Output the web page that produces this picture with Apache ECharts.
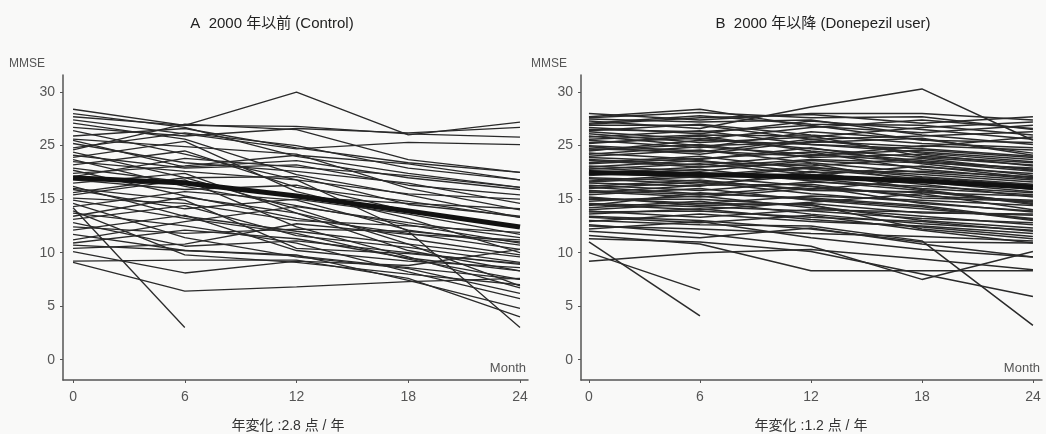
<!DOCTYPE html>
<html>
<head>
<meta charset="utf-8">
<script src="https://cdn.jsdelivr.net/npm/echarts@6/dist/echarts.min.js"></script>
<style>
  html, body { margin: 0; padding: 0; background: #f9f9f8; }
  #chart { width: 1046px; height: 434px; }
</style>
</head>
<body>
<div id="chart"></div>
<script>
// months of follow-up
const months = [0, 6, 12, 18, 24]
const xTickValues = [0, 6, 12, 18, 24]
// the printed axis has no "20": six equally spaced ticks labelled like this
const yTickValues = [0, 5, 10, 15, 20, 25]
const yTickLabels = ['0', '5', '10', '15', '25', '30']

const panelTitles = ['A  2000 年以前 (Control)', 'B  2000 年以降 (Donepezil user)']
const panelNotes = ['年変化 :2.8 点 / 年', '年変化 :1.2 点 / 年']

// mean trajectories (thick line), axis units
const controlMean = [17.0, 16.5, 15.3, 13.9, 12.4]
const donepezilMean = [17.5, 17.3, 17.1, 16.7, 16.1]

// individual patients, values at months 0/6/12/18/24 (null = no visit)
const controlPatients = [
  [23.4, 21.9, 25.0, 21.0, 22.2],
  [22.7, 21.9, 21.8, 21.1, 20.8],
  [21.7, 20.9, 21.6, 21.2, 21.7],
  [20.9, 21.6, 19.8, 18.4, 17.5],
  [20.2, 18.4, 17.6, 16.5, 14.6],
  [19.8, 21.2, 20.0, 17.9, 16.8],
  [19.1, 17.9, 18.2, 16.3, 15.4],
  [18.7, 16.2, 14.4, 12.6, 10.9],
  [18.2, 19.5, 16.1, 14.8, 13.3],
  [17.7, 15.3, 13.2, 11.8, 10.3],
  [17.1, 18.8, 18.0, 17.2, 16.1],
  [16.5, 17.4, 13.7, 10.2, 8.3],
  [15.9, 14.1, 15.0, 13.6, 11.7],
  [15.4, 16.8, 12.4, 9.6, 6.7],
  [14.9, 13.2, 11.8, 9.4, 7.5],
  [14.3, 15.7, 14.9, 12.1, 10.7],
  [13.7, 12.5, 10.9, 8.2, 5.7],
  [13.1, 14.4, 11.6, 10.5, 9.1],
  [12.4, 11.8, 12.2, 12.0, 11.0],
  [11.7, 10.2, 9.8, 7.4, 4.8],
  [10.9, 12.1, 11.3, 9.5, 8.3],
  [10.1, 8.1, 9.2, 8.8, 10.3],
  [10.7, 10.2, 9.7, 8.6, 7.5],
  [9.1, 6.4, 6.8, 7.3, 7.6],
  [14.2, 3.0, null, null, null],
  [9.2, 9.3, 9.3, 7.6, 4.0],
  [22.1, 20.6, 17.3, 15.4, 13.3],
  [21.4, 19.2, 16.8, 12.0, 3.0],
  [20.6, 19.9, 19.2, 16.0, 14.0],
  [18.9, 20.4, 15.7, 13.2, 10.0],
  [17.4, 18.1, 19.1, 18.3, 16.8],
  [16.8, 15.9, 16.3, 13.9, 12.4],
  [16.2, 13.4, 12.0, 10.8, 9.6],
  [15.6, 17.0, 17.1, 14.5, 13.4],
  [14.6, 11.4, 9.6, 8.5, 6.2],
  [13.4, 15.2, 13.7, 11.3, 9.8],
  [12.8, 10.6, 11.1, 10.0, 8.9],
  [19.4, 17.0, 14.1, 10.8, 6.9],
  [11.2, 12.9, 14.3, 12.8, 11.4],
  [22.4, 21.1, 19.7, 20.3, 20.1],
  [20.5, 18.0, 18.6, 17.0, 15.9],
  [17.9, 16.6, 15.2, 14.6, 14.1],
  [15.1, 14.6, 13.0, 12.5, 11.9],
  [23.0, 21.7, 19.0, 17.4, 16.1],
  [10.4, 10.8, 12.7, 11.7, 11.2],
  [19.6, 22.0, 21.5, 18.7, 17.5],
  [13.9, 9.8, 9.1, 8.0, 7.0],
  [16.0, 14.9, 10.4, 9.9, 9.0],
  [18.5, 17.6, 16.8, 15.5, 15.0],
  [12.1, 13.5, 10.2, 9.2, 8.6]
]

const donepezilPatients = [
  [22.7, 23.4, 21.8, 21.2, 21.9],
  [22.3, 21.6, 23.6, 25.3, 20.5],
  [22.0, 22.6, 22.9, 22.1, 22.7],
  [21.7, 21.1, 22.3, 21.5, 20.6],
  [21.4, 22.0, 21.0, 20.2, 19.8],
  [21.1, 20.3, 20.8, 21.7, 22.2],
  [20.8, 21.4, 20.1, 19.4, 18.7],
  [20.5, 19.8, 21.3, 20.6, 19.3],
  [20.2, 20.9, 19.5, 18.6, 17.8],
  [19.9, 19.2, 20.4, 19.9, 20.8],
  [19.6, 20.1, 18.9, 19.2, 18.1],
  [19.3, 18.7, 19.8, 18.3, 17.2],
  [19.0, 19.6, 18.4, 17.5, 16.8],
  [18.7, 18.2, 19.1, 19.6, 18.9],
  [18.4, 19.0, 17.8, 16.9, 15.9],
  [18.1, 17.6, 18.6, 18.0, 17.4],
  [17.8, 18.3, 17.3, 16.4, 15.2],
  [17.5, 17.0, 17.9, 17.3, 16.6],
  [17.2, 17.8, 16.7, 15.8, 14.5],
  [16.9, 16.4, 17.2, 18.1, 17.0],
  [16.6, 17.1, 16.2, 15.3, 14.9],
  [16.3, 15.8, 16.6, 16.2, 15.6],
  [16.0, 16.6, 15.5, 14.7, 13.8],
  [15.7, 15.2, 16.0, 15.6, 15.3],
  [15.4, 16.0, 14.9, 14.1, 13.2],
  [15.1, 14.6, 15.3, 14.9, 14.4],
  [14.8, 15.3, 14.2, 13.4, 12.6],
  [14.5, 14.0, 14.7, 15.5, 14.0],
  [14.2, 14.8, 13.6, 12.7, 12.1],
  [13.9, 13.3, 14.0, 13.8, 13.5],
  [13.6, 14.1, 13.1, 12.4, 11.5],
  [13.3, 12.8, 13.5, 12.1, 10.9],
  [13.0, 12.6, 12.5, 11.1, 3.2],
  [12.6, 11.8, 10.6, 7.5, 10.1],
  [12.2, 12.9, 11.4, 10.3, 9.6],
  [11.6, 10.8, 8.3, 8.3, 8.3],
  [11.0, 4.1, null, null, null],
  [10.0, 6.5, null, null, null],
  [9.2, 10.0, 10.3, 9.4, 8.4],
  [11.3, 11.0, 10.1, 8.0, 5.9],
  [22.5, 22.2, 22.4, 21.0, 20.1],
  [21.9, 21.9, 20.6, 20.9, 21.3],
  [21.3, 20.6, 21.7, 22.4, 21.6],
  [20.6, 21.0, 20.9, 19.0, 18.4],
  [20.0, 19.5, 19.0, 20.0, 19.6],
  [19.5, 20.5, 20.1, 19.7, 19.0],
  [18.9, 18.5, 18.1, 18.8, 17.7],
  [18.3, 18.8, 19.4, 17.8, 16.9],
  [17.9, 17.4, 16.8, 17.0, 16.3],
  [17.4, 18.0, 18.3, 16.6, 15.7],
  [17.0, 16.7, 15.9, 16.8, 16.0],
  [16.5, 16.2, 17.6, 15.9, 14.6],
  [16.1, 15.5, 15.1, 14.4, 13.1],
  [15.6, 16.3, 16.4, 15.1, 14.8],
  [15.0, 15.0, 14.4, 13.0, 12.3],
  [14.4, 15.6, 15.0, 14.3, 13.0],
  [13.8, 13.9, 13.3, 12.9, 12.0],
  [13.4, 13.0, 12.2, 11.0, 10.9],
  [12.9, 13.6, 12.9, 12.5, 11.8],
  [12.5, 12.2, 11.8, 11.5, 11.1],
  [22.1, 22.8, 22.0, 21.9, 21.0],
  [21.5, 21.3, 21.9, 20.5, 20.3],
  [20.9, 20.0, 20.3, 20.7, 19.1],
  [20.3, 20.7, 19.7, 18.9, 18.2],
  [19.7, 19.4, 20.6, 19.3, 18.5],
  [19.2, 19.9, 19.2, 18.5, 17.6],
  [18.6, 18.0, 18.7, 18.4, 17.9],
  [18.0, 18.6, 17.5, 17.6, 17.1],
  [17.6, 17.2, 18.0, 17.1, 16.4],
  [16.7, 17.3, 16.9, 16.0, 15.4],
  [16.2, 16.8, 15.8, 15.7, 14.7],
  [15.8, 15.4, 16.2, 14.6, 13.9],
  [15.2, 14.4, 14.6, 13.7, 13.6],
  [14.6, 14.3, 13.9, 13.2, 12.8],
  [14.0, 14.6, 14.5, 12.2, 11.3],
  [23.0, 22.4, 23.0, 23.0, 22.4],
  [22.6, 23.1, 22.6, 22.7, 21.5],
  [12.0, 11.4, 12.3, 10.8, 9.6]
]

const FONT = "'Liberation Sans', 'Noto Sans CJK JP', sans-serif"
const AXIS_COLOR = '#555'

const toPoints = (vals) => months.map((m, i) => [m, vals[i]])

function patientSeries(list, idx, width) {
  return list.map((vals) => ({
    type: 'line',
    xAxisIndex: idx,
    yAxisIndex: idx,
    data: toPoints(vals),
    symbol: 'none',
    silent: true,
    lineStyle: { color: '#2a2a2a', width },
  }))
}

function meanSeries(vals, idx) {
  return {
    type: 'line',
    xAxisIndex: idx,
    yAxisIndex: idx,
    data: toPoints(vals),
    symbol: 'none',
    silent: true,
    z: 5,
    lineStyle: { color: '#111', width: 5 },
  }
}

function xAxis(idx, min, max) {
  return {
    type: 'value',
    gridIndex: idx,
    min, max,
    name: 'Month',
    nameLocation: 'end',
    nameGap: -2,
    nameTextStyle: { color: AXIS_COLOR, fontSize: 13, fontFamily: FONT, align: 'right', verticalAlign: 'bottom', padding: [0, 0, 5, 0] },
    splitLine: { show: false },
    axisLine: { onZero: false, lineStyle: { color: AXIS_COLOR, width: 1.5 } },
    axisTick: { customValues: xTickValues, length: 3, lineStyle: { color: AXIS_COLOR } },
    axisLabel: { customValues: xTickValues, color: AXIS_COLOR, fontSize: 14, fontFamily: FONT, margin: 10 },
  }
}

function yAxis(idx, gap) {
  return {
    type: 'value',
    gridIndex: idx,
    min: -1.9, max: 26.6,
    name: 'MMSE',
    nameLocation: 'end',
    nameGap: 5,
    nameTextStyle: { color: AXIS_COLOR, fontSize: 12, fontFamily: FONT, align: 'right', padding: [0, gap, 0, 0] },
    splitLine: { show: false },
    axisLine: { show: true, onZero: false, lineStyle: { color: AXIS_COLOR, width: 1.5 } },
    axisTick: { show: true, customValues: yTickValues, length: 3, lineStyle: { color: AXIS_COLOR } },
    axisLabel: {
      customValues: yTickValues,
      color: AXIS_COLOR, fontSize: 14, fontFamily: FONT, margin: 8,
      formatter: (v) => yTickLabels[yTickValues.indexOf(v)] ?? '',
    },
  }
}

const chart = echarts.init(document.getElementById('chart'))
chart.setOption({
  backgroundColor: '#f9f9f8',
  animation: false,
  title: [
    { text: panelTitles[0], left: 267, top: 11, textAlign: 'center', textStyle: { fontSize: 15, fontWeight: 'normal', color: '#222', fontFamily: FONT } },
    { text: panelTitles[1], left: 818, top: 11, textAlign: 'center', textStyle: { fontSize: 15, fontWeight: 'normal', color: '#222', fontFamily: FONT } },
    { text: panelNotes[0], left: 283, top: 414, textAlign: 'center', textStyle: { fontSize: 14, fontWeight: 'normal', color: '#333', fontFamily: FONT } },
    { text: panelNotes[1], left: 806, top: 414, textAlign: 'center', textStyle: { fontSize: 14, fontWeight: 'normal', color: '#333', fontFamily: FONT } },
  ],
  grid: [
    { left: 63, right: 518, top: 75, bottom: 54 },
    { left: 581, right: 4, top: 75, bottom: 54 },
  ],
  xAxis: [xAxis(0, -0.54, 24.43), xAxis(1, -0.43, 24.49)],
  yAxis: [yAxis(0, 18), yAxis(1, 14)],
  series: [
    ...patientSeries(controlPatients, 0, 1.3),
    meanSeries(controlMean, 0),
    ...patientSeries(donepezilPatients, 1, 1.5),
    meanSeries(donepezilMean, 1),
  ],
})
</script>
</body>
</html>
